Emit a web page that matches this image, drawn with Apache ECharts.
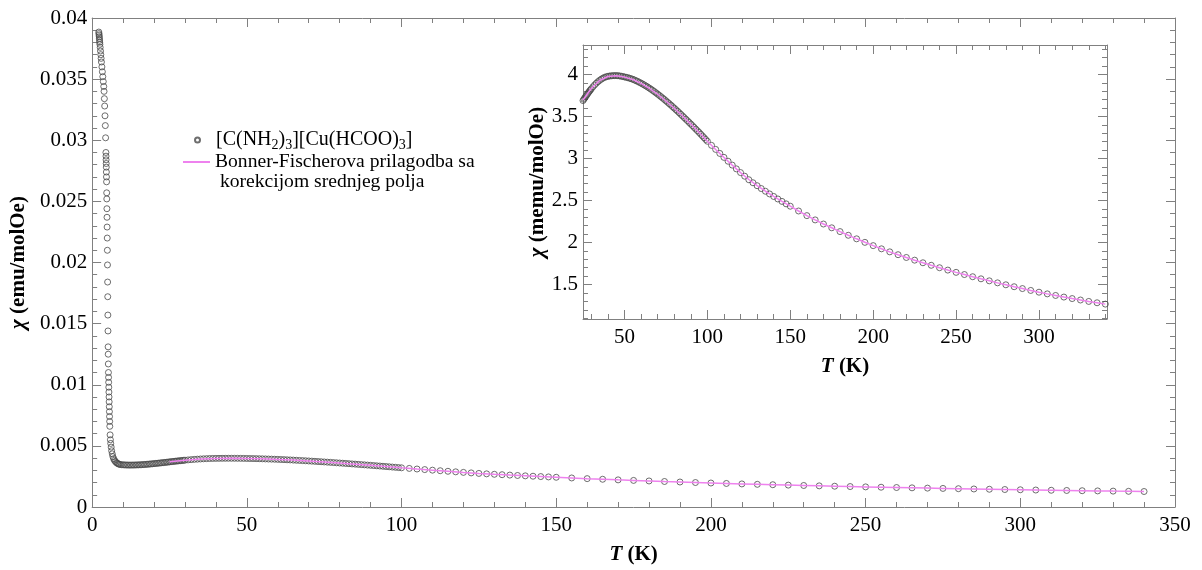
<!DOCTYPE html>
<html><head><meta charset="utf-8">
<script src="https://cdn.jsdelivr.net/npm/echarts@6/dist/echarts.min.js"></script>
<style>html,body{margin:0;padding:0;background:#fff}#c{width:1202px;height:570px}</style>
</head><body><div id="c"></div>
<script>
// ---- measured susceptibility, T in K, chi in memu/molOe ----
const steepT = [2.15,2.2,2.25,2.3,2.35,2.4,2.45,2.5,2.6,2.7,2.8,2.9,3.0,3.15,3.3,3.45,3.6,3.75,3.85,3.95,4.05,4.15,4.25,4.35,4.45,4.48,4.51,4.54,4.57,4.6,4.63,4.66,4.7,4.73,4.77,4.8,4.84,4.88,4.92,4.96,5.0,5.04,5.08,5.12,5.16,5.19,5.22,5.26,5.3,5.34,5.38,5.42,5.46,5.5,5.54,5.58,5.62,5.66,5.7,5.8,5.9,6.0,6.15,6.3,6.5,6.7,6.95,7.2,7.5,7.8,8.1,8.4,8.7,9.0,9.5];
const steepChi = [38.85,38.72,38.6,38.47,38.33,38.18,38.02,37.85,37.6,37.3,37.0,36.7,36.4,36.0,35.6,35.2,34.8,34.4,34.0,33.4,32.8,32.0,31.2,30.2,29.0,28.7,28.4,28.1,27.8,27.4,27.0,26.6,25.7,25.2,24.4,23.7,22.9,22.0,21.0,19.8,18.4,17.2,15.7,14.4,13.1,12.5,11.7,11.0,10.6,10.2,9.8,9.4,9.0,8.6,8.2,7.8,7.4,7.0,6.6,5.9,5.5,5.2,4.9,4.6,4.35,4.12,3.95,3.82,3.72,3.64,3.58,3.54,3.5,3.48,3.46];
const denseT = [10,10.5,11,11.5,12,12.5,13,13.5,14,14.5,15,15.5,16,16.5,17,17.5,18,18.5,19,19.5,20,20.5,21,21.5,22,22.5,23,23.5,24,24.5,25,25.5,26,26.5,27,27.5,28,28.5,29,29.5,30,31,32,33,34,35,36,37,38,39,40,41,42,43,44,45,46,47,48,49,50,51,52,53,54,55,56,57,58,59,60,61,62,63,64,65,66,67,68,69,70,71,72,73,74,75,76,77,78,79,80,81,82,83,84,85,86,87,88,89,90,91,92,93,94,95,96,97,98,99,100];
const denseChi = [3.45,3.442,3.436,3.432,3.43,3.43,3.432,3.434,3.437,3.442,3.447,3.453,3.46,3.469,3.478,3.489,3.5,3.511,3.523,3.535,3.548,3.561,3.575,3.588,3.602,3.616,3.63,3.645,3.659,3.674,3.689,3.704,3.719,3.734,3.748,3.762,3.776,3.79,3.803,3.816,3.829,3.853,3.875,3.895,3.913,3.929,3.943,3.955,3.965,3.972,3.977,3.981,3.983,3.985,3.986,3.986,3.985,3.982,3.979,3.975,3.970,3.966,3.961,3.955,3.949,3.942,3.934,3.925,3.916,3.906,3.896,3.885,3.874,3.862,3.850,3.837,3.824,3.810,3.796,3.781,3.766,3.751,3.735,3.719,3.703,3.686,3.669,3.652,3.635,3.617,3.599,3.581,3.563,3.544,3.525,3.506,3.487,3.468,3.449,3.429,3.41,3.39,3.37,3.35,3.33,3.31,3.289,3.268,3.247,3.226,3.205];
const sparseT = [102.5,105,107.5,110,112.5,115,117.5,120,122.5,125,127.5,130,132.5,135,137.5,140,142.5,145,147.5,150,155,160,165,170,175,180,185,190,195,200,205,210,215,220,225,230,235,240,245,250,255,260,265,270,275,280,285,290,295,300,305,310,315,320,325,330,335,340];
const sparseChi = [3.156,3.108,3.060,3.013,2.967,2.921,2.876,2.832,2.789,2.747,2.711,2.676,2.642,2.610,2.578,2.548,2.518,2.489,2.460,2.432,2.375,2.320,2.269,2.220,2.175,2.130,2.086,2.044,2.002,1.963,1.925,1.889,1.855,1.822,1.790,1.759,1.729,1.700,1.672,1.645,1.619,1.593,1.568,1.544,1.520,1.497,1.474,1.452,1.430,1.409,1.389,1.370,1.351,1.333,1.316,1.299,1.283,1.267];
// ---- Bonner-Fisher fit with mean-field correction (memu/molOe) ----
const fitT = [25,30,35,40,45,50,55,60,65,70,75,80,85,90,95,100,105,110,115,120,125,130,135,140,145,150,155,160,165,170,175,180,185,190,195,200,205,210,215,220,225,230,235,240,245,250,255,260,265,270,275,280,285,290,295,300,305,310,315,320,325,330,335,340];
const fitChi = [3.695,3.832,3.928,3.975,3.984,3.968,3.94,3.894,3.835,3.764,3.684,3.597,3.505,3.409,3.309,3.205,3.107,3.013,2.921,2.832,2.750,2.677,2.61,2.548,2.489,2.432,2.375,2.32,2.269,2.22,2.175,2.13,2.086,2.044,2.003,1.963,1.925,1.889,1.855,1.822,1.79,1.759,1.729,1.7,1.672,1.645,1.619,1.593,1.568,1.544,1.52,1.497,1.474,1.452,1.43,1.409,1.389,1.37,1.351,1.333,1.316,1.299,1.283,1.267];
// ---- tick labels ----
const insetXMajor = [50,100,150,200,250,300];
const insetYMajor = [1.5,2,2.5,3,3.5,4];
const seriesName1 = '[C(NH2)3][Cu(HCOO)3]';
const legendText1 = '[C(NH{sub|2}){sub|3}][Cu(HCOO){sub|3}]';
const seriesName2 = 'Bonner-Fischerova prilagodba sa\n korekcijom srednjeg polja';

const FF = "'Liberation Serif','Times New Roman',serif";
const GRAY = '#808080';
const PINK = '#ee82ee';

const allT = steepT.concat(denseT, sparseT);
const allChi = steepChi.concat(denseChi, sparseChi);
const mainPts = allT.map((t, i) => [t, allChi[i] / 1000]);
const insetPts = allT.map((t, i) => [t, allChi[i]]);
const fitMain = fitT.map((t, i) => [t, fitChi[i] / 1000]);
const fitInset = fitT.map((t, i) => [t, fitChi[i]]);

const insetXMinor = []; for (let v = 30; v <= 340; v += 10) if (v % 50 !== 0) insetXMinor.push(v);
const insetYMinor = []; for (let k = 11; k <= 43; k++) if (k % 5 !== 0) insetYMinor.push(k / 10);

const nameStyle = {fontFamily: FF, fontSize: 21, fontWeight: 'bold', color: '#000',
  rich: {i: {fontFamily: FF, fontSize: 21, fontWeight: 'bold', fontStyle: 'italic', color: '#000'}}};
const labelStyle = {fontFamily: FF, fontSize: 21, color: '#000'};
const lineSt = {color: GRAY, width: 1};

function mainAxis(dim, pos, primary) {
  const isX = dim === 'x';
  const a = {
    type: 'value', gridIndex: 0, position: pos,
    min: 0, max: isX ? 350 : 0.04, interval: isX ? 50 : 0.005,
    axisLine: {show: true, onZero: false, lineStyle: lineSt},
    axisTick: {show: true, inside: true, length: 9, lineStyle: lineSt},
    minorTick: {show: true, splitNumber: 5, length: 5, lineStyle: lineSt},
    splitLine: {show: false}, minorSplitLine: {show: false},
    axisLabel: Object.assign({show: primary, margin: isX ? 8 : 5}, labelStyle)
  };
  if (primary) {
    a.name = isX ? '{i|T} (K)' : '{i|\u03c7} (emu/molOe)';
    a.nameLocation = 'middle';
    a.nameGap = isX ? 37 : 55;
    a.nameTextStyle = nameStyle;
  }
  return a;
}
function insetAxis(dim, pos, vals, major, primary) {
  const isX = dim === 'x';
  const a = {
    type: 'value', gridIndex: 1, position: pos,
    min: isX ? 25 : 1.09, max: isX ? 341 : 4.35,
    axisLine: {show: major, onZero: false, lineStyle: lineSt},
    axisTick: {show: true, inside: true, length: major ? 9 : 5, lineStyle: lineSt, customValues: vals},
    splitLine: {show: false},
    axisLabel: Object.assign({show: primary, margin: isX ? 8 : 5, customValues: vals}, labelStyle)
  };
  if (primary) {
    a.name = isX ? '{i|T} (K)' : '{i|\u03c7} (memu/molOe)';
    a.nameLocation = 'middle';
    a.nameGap = isX ? 37 : 35;
    a.nameTextStyle = nameStyle;
  }
  return a;
}

const scatterStyle = {color: 'rgba(0,0,0,0)', borderColor: '#4a4a4a', borderWidth: 1};

const option = {
  animation: false,
  backgroundColor: '#fff',
  grid: [
    {left: 90, top: 18, width: 1085, height: 495},
    {left: 583, top: 45, width: 524, height: 274}
  ],
  xAxis: [
    mainAxis('x', 'bottom', true), mainAxis('x', 'top', false),
    insetAxis('x', 'bottom', insetXMajor, true, true), insetAxis('x', 'bottom', insetXMinor, false, false),
    insetAxis('x', 'top', insetXMajor, true, false), insetAxis('x', 'top', insetXMinor, false, false)
  ],
  yAxis: [
    mainAxis('y', 'left', true), mainAxis('y', 'right', false),
    insetAxis('y', 'left', insetYMajor, true, true), insetAxis('y', 'left', insetYMinor, false, false),
    insetAxis('y', 'right', insetYMajor, true, false), insetAxis('y', 'right', insetYMinor, false, false)
  ],
  legend: [
    {data: [seriesName1], orient: 'vertical', left: 194, top: 128, padding: 0,
     itemWidth: 27, itemHeight: 5, selectedMode: false,
     formatter: () => legendText1,
     textStyle: {fontFamily: FF, fontSize: 20, color: '#000',
       rich: {sub: {fontFamily: FF, fontSize: 14, color: '#000', lineHeight: 14, padding: [10, 0, 0, 0]}}}},
    {data: [{name: seriesName2, icon: 'rect'}], orient: 'vertical', left: 183, top: 132, padding: 0,
     itemWidth: 27, itemHeight: 2, selectedMode: false,
     formatter: (n) => '\n' + n,
     textStyle: {fontFamily: FF, fontSize: 19.6, color: '#000', lineHeight: 20}}
  ],
  series: [
    {name: seriesName1, type: 'scatter', xAxisIndex: 0, yAxisIndex: 0, data: mainPts,
     symbol: 'circle', symbolSize: 6, itemStyle: scatterStyle, z: 2},
    {name: seriesName2, type: 'line', xAxisIndex: 0, yAxisIndex: 0, data: fitMain,
     symbol: 'none', showSymbol: false, lineStyle: {color: PINK, width: 1.5}, itemStyle: {color: PINK}, z: 3},
    {name: seriesName1, type: 'scatter', xAxisIndex: 2, yAxisIndex: 2, data: insetPts,
     symbol: 'circle', symbolSize: 6, itemStyle: scatterStyle, z: 2, clip: true},
    {name: seriesName2, type: 'line', xAxisIndex: 2, yAxisIndex: 2, data: fitInset,
     symbol: 'none', showSymbol: false, lineStyle: {color: PINK, width: 1.5}, itemStyle: {color: PINK}, z: 3, clip: true}
  ]
};
const chart = echarts.init(document.getElementById('c'), null, {renderer: 'canvas'});
chart.setOption(option);
</script></body></html>
